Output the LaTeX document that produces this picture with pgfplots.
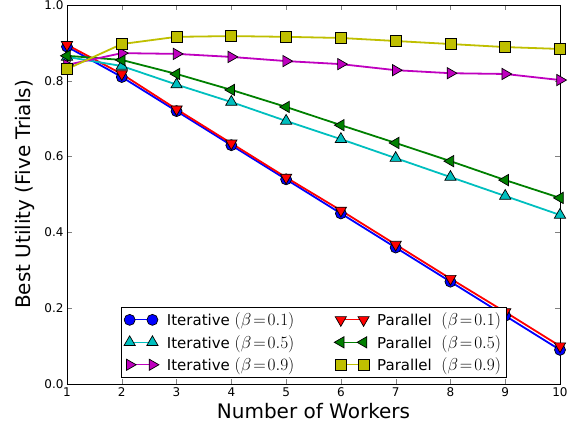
\documentclass[border=0pt]{standalone}
\usepackage{pgfplots}
\pgfplotsset{compat=1.18}
\usepackage{fontspec}
\setmainfont{DejaVu Sans}
\definecolor{mc}{rgb}{0,0.75,0.75}
\definecolor{mm}{rgb}{0.75,0,0.75}
\definecolor{mg}{rgb}{0,0.5,0}
\definecolor{my}{rgb}{0.75,0.75,0}
\newcommand\bx[1]{{\fontsize{17.5}{20}\selectfont$(\beta\!=\!#1)$}}
\pgfplotsset{ser/.style={color=#1, line width=1.8pt, mark options={draw=black, fill=#1, line width=0.7pt, solid}}}
\begin{document}
\begin{tikzpicture}
\begin{axis}[
 scale only axis, width=493pt, height=379pt,
 xmin=1, xmax=10, ymin=0, ymax=1,
 xtick={1,2,3,4,5,6,7,8,9,10}, ytick={0,0.2,0.4,0.6,0.8,1.0},
 yticklabel style={/pgf/number format/.cd, fixed, fixed zerofill, precision=1},
 /pgf/number format/assume math mode=true,
 tick align=inside, major tick length=5pt, tick pos=both,
 tick label style={font=\fontsize{12}{14}\selectfont},
 label style={font=\fontsize{20}{24}\selectfont},
 xlabel={Number of Workers}, ylabel={Best Utility (Five Trials)},
 xlabel style={at={(axis description cs:0.5,0)}, anchor=center, yshift=-27pt},
 ylabel style={at={(axis description cs:0,0.5)}, anchor=center, yshift=42pt},
 legend style={at={(0.5,0.018)}, anchor=south, font=\fontsize{15}{18}\selectfont, draw=black, column sep=6pt, row sep=4pt, inner sep=3pt,
   /tikz/every even column/.append style={column sep=38pt}},
 legend cell align=left,
 legend columns=2,
 legend image code/.code={\draw[mark repeat=2,mark phase=1,#1,line width=1pt] plot coordinates {(0cm,0cm) (0.4cm,0cm) (0.8cm,0cm)};},
]
\addplot[ser=blue, mark=*, mark size=5.5pt] coordinates {(1,0.89) (2,0.81) (3,0.72) (4,0.63) (5,0.54) (6,0.45) (7,0.36) (8,0.27) (9,0.18) (10,0.09)};
\addlegendentry{Iterative \bx{0.1}}
\addplot[ser=red, mark=triangle*, mark size=6.5pt, every mark/.append style={rotate=180}] coordinates {(1,0.895) (2,0.818) (3,0.725) (4,0.635) (5,0.545) (6,0.458) (7,0.368) (8,0.278) (9,0.19) (10,0.10)};
\addlegendentry{Parallel\ \ \bx{0.1}}
\addplot[ser=mc, mark=triangle*, mark size=6.5pt] coordinates {(1,0.863) (2,0.839) (3,0.79) (4,0.744) (5,0.694) (6,0.646) (7,0.596) (8,0.546) (9,0.496) (10,0.446)};
\addlegendentry{Iterative \bx{0.5}}
\addplot[ser=mg, mark=triangle*, mark size=6.5pt, every mark/.append style={rotate=90}] coordinates {(1,0.866) (2,0.855) (3,0.818) (4,0.776) (5,0.731) (6,0.683) (7,0.636) (8,0.588) (9,0.538) (10,0.491)};
\addlegendentry{Parallel\ \ \bx{0.5}}
\addplot[ser=mm, mark=triangle*, mark size=6.5pt, every mark/.append style={rotate=-90}] coordinates {(1,0.842) (2,0.873) (3,0.871) (4,0.863) (5,0.852) (6,0.844) (7,0.828) (8,0.82) (9,0.818) (10,0.802)};
\addlegendentry{Iterative \bx{0.9}}
\addplot[ser=my, mark=square*, mark size=5.5pt] coordinates {(1,0.831) (2,0.897) (3,0.916) (4,0.918) (5,0.916) (6,0.913) (7,0.905) (8,0.897) (9,0.889) (10,0.884)};
\addlegendentry{Parallel\ \ \bx{0.9}}
\end{axis}
\pgfresetboundingbox
\path ([shift={(-67pt,-53pt)}]current axis.south west) rectangle ([shift={(13pt,5pt)}]current axis.north east);
\end{tikzpicture}
\end{document}
